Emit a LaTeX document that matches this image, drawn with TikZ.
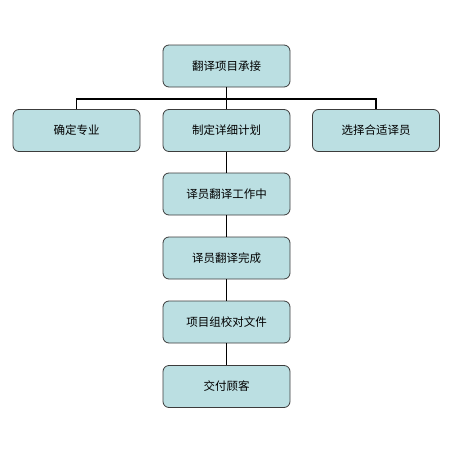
\documentclass[tikz,border=0pt]{standalone}
\usepackage{fontspec}
\setmainfont{Noto Sans CJK SC}
\definecolor{boxfill}{HTML}{BBDFE2}
\definecolor{boxline}{HTML}{3C3C3C}
\tikzstyle{stage} = [draw=boxline,line width=0.8pt,fill=boxfill,rounded corners=6pt,minimum width=127pt,minimum height=42pt,font=\fontsize{11.5pt}{13pt}\selectfont]
\tikzstyle{link} = [draw=black,line width=1.8pt]

\begin{document}
\begin{tikzpicture}[x=1pt,y=-1pt]
		\useasboundingbox (0,0) rectangle (450,450);
		\node[stage] (accept) at (226.5,66) {翻译项目承接};
		\node[stage] (field) at (76.5,130.5) {确定专业};
		\node[stage] (plan) at (226.5,130.5) {制定详细计划};
		\node[stage] (select) at (376,130.5) {选择合适译员};
		\node[stage] (working) at (226.5,194) {译员翻译工作中};
		\node[stage] (done) at (226.5,258) {译员翻译完成};
		\node[stage] (proof) at (226.5,322) {项目组校对文件};
		\node[stage] (deliver) at (226.5,386.5) {交付顾客};
		\coordinate (bus) at (226.5,99);
		\draw[link] (accept) -- (plan);
		\draw[link] (field) |- (bus) -| (select);
		\draw[link] (plan) -- (working);
		\draw[link] (working) -- (done);
		\draw[link] (done) -- (proof);
		\draw[link] (proof) -- (deliver);
		\end{tikzpicture}
\end{document}
